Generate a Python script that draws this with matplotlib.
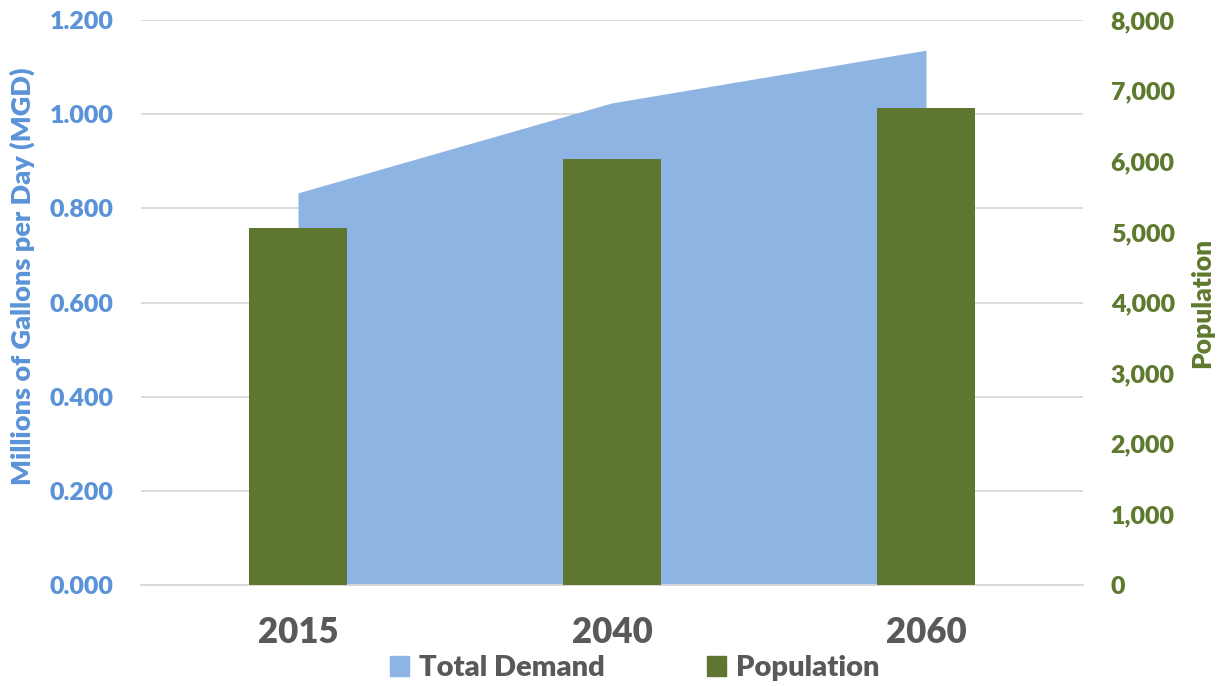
import matplotlib.pyplot as plt
import numpy as np
from matplotlib.patches import Patch

years = ["2015", "2040", "2060"]
total_demand = [0.833, 1.024, 1.136]   # MGD
population = [5055, 6030, 6755]

BLUE_TXT = "#5B93D8"
AREA = "#8EB4E3"
GREEN = "#5E7630"
GREEN_TXT = "#5F7A2E"
GREY = "#595959"

plt.rcParams["font.family"] = ["Lato", "DejaVu Sans"]
plt.rcParams["font.weight"] = "heavy"

fig = plt.figure(figsize=(12.19, 6.86), dpi=100)
ax = fig.add_axes([0.1157, 0.1472, 0.7727, 0.8236])
ax2 = ax.twinx()

x = np.arange(len(years))
ax.fill_between(x, 0, total_demand, color=AREA, linewidth=0, zorder=2)
ax.set_ylim(0, 1.2)
ax.set_yticks(np.arange(0, 1.21, 0.2))
ax.set_yticklabels([f"{v:.3f}" for v in np.arange(0, 1.21, 0.2)])
ax.set_xlim(-0.5, 2.5)
ax.set_xticks(x)
ax.set_xticklabels(years, fontsize=25, color=GREY, fontweight="heavy")
ax.grid(axis="y", color="#D9D9D9", linewidth=1.3, zorder=0)
ax.set_axisbelow(True)
ax.tick_params(axis="y", colors=BLUE_TXT, labelsize=18, length=0, pad=20)
ax.tick_params(axis="x", length=0, pad=22)
ax.set_ylabel("Millions of Gallons per Day (MGD)", color=BLUE_TXT,
              fontsize=19.5, fontweight="heavy")
ax.yaxis.set_label_coords(-0.113, 0.546)

ax2.bar(x, population, width=0.31, color=GREEN, zorder=3)
ax2.set_ylim(0, 8000)
ax2.set_yticks(np.arange(0, 8001, 1000))
ax2.set_yticklabels([f"{int(v):,}" for v in np.arange(0, 8001, 1000)])
ax2.tick_params(axis="y", colors=GREEN_TXT, labelsize=18, length=0, pad=20)
ax2.set_ylabel("Population", color=GREEN_TXT, fontsize=19, fontweight="heavy")
ax2.yaxis.set_label_coords(1.114, 0.5)

for a in (ax, ax2):
    for s in a.spines.values():
        s.set_visible(False)
ax.spines["bottom"].set_visible(True)
ax.spines["bottom"].set_color("#D9D9D9")
ax.spines["bottom"].set_linewidth(1.3)

handles = [Patch(color=AREA, label="Total Demand"),
           Patch(color=GREEN, label="Population")]
fig.legend(handles=handles, loc="center", bbox_to_anchor=(0.521, 0.026),
           ncol=2, frameon=False, labelcolor=GREY,
           handlelength=0.65, handleheight=0.65, handletextpad=0.35,
           columnspacing=3.5, prop={"weight": "heavy", "size": 21})

fig.savefig("out.png", dpi=100)
